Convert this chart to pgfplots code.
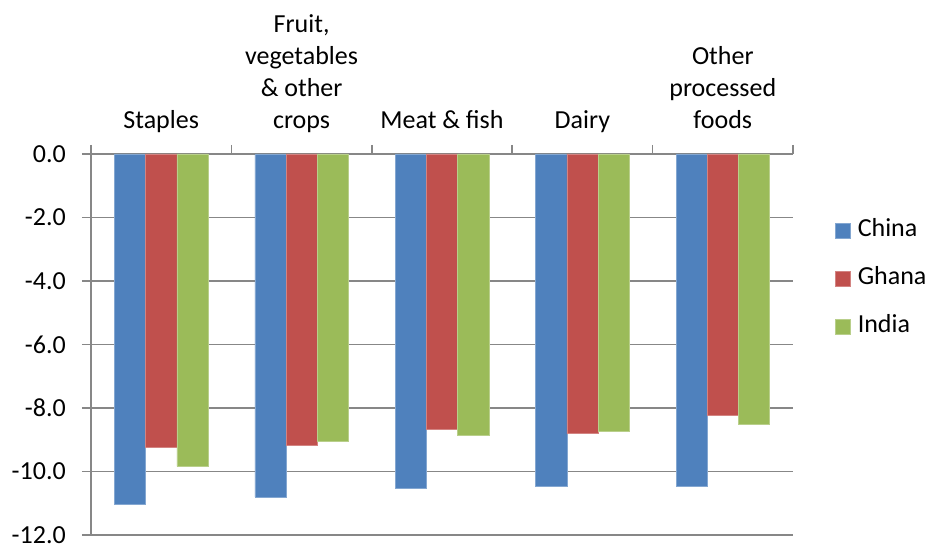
\documentclass[border=0pt]{standalone}
\usepackage{pgfplots}
\pgfplotsset{compat=1.18}
\usepackage{fontspec}
\setmainfont{Carlito}

\definecolor{cChina}{HTML}{4F81BD}
\definecolor{cGhana}{HTML}{C0504D}
\definecolor{cIndia}{HTML}{9BBB59}
\definecolor{gridgray}{HTML}{878787}

\newcommand{\chartfont}{\fontsize{26bp}{32bp}\selectfont}

\begin{document}
\chartfont
\begin{tikzpicture}
\path[use as bounding box] (0,0) rectangle (929bp,544bp);
\begin{axis}[
  at={(91bp,9bp)}, anchor=south west,
  scale only axis,
  width=702bp, height=381bp,
  ybar=0pt, bar width=31.2bp,
  xmin=-0.5, xmax=4.5,
  ymin=-12, ymax=0,
  axis y line*=left,
  axis x line*=top,
  axis line style={gridgray, line width=1.6bp, -},
  xtick={-0.5,0.5,1.5,2.5,3.5,4.5},
  xticklabels={},
  x tick style={gridgray, line width=1.6bp},
  y tick style={gridgray, line width=1.6bp},
  major tick length=9bp,
  tick align=outside,
  extra x ticks={0,1,2,3,4},
  extra x tick labels={Staples,{Fruit,\\vegetables\\\& other\\crops},Meat \& fish,Dairy,{Other\\processed\\foods}},
  extra x tick style={major tick length=0pt, grid=none,
    xticklabel style={anchor=south, align=center, text depth=0pt, inner sep=0pt, yshift=25bp}},
  ytick={-12,-10,-8,-6,-4,-2,0},
  yticklabels={-12.0,-10.0,-8.0,-6.0,-4.0,-2.0,0.0},
  yticklabel style={anchor=east, inner sep=0pt, xshift=-16bp},
  ymajorgrids,
  grid style={gridgray, line width=1.6bp},
  every x tick label/.append style={font=\chartfont},
  every y tick label/.append style={font=\chartfont},
  legend image code/.code={\fill[#1] (0bp,-7.5bp) rectangle (15bp,7.5bp);},
  legend style={draw=none, fill=none, at={(1.0598,0.672)}, anchor=west,
    inner sep=0pt, row sep=27bp, column sep=7bp,
    nodes={inner sep=0pt, anchor=west, text height=16bp, text depth=5bp,
      font=\chartfont}},
  legend cell align=left,
]
\addplot[fill=cChina, draw=cChina!70!white, line width=0.6bp] coordinates
  {(0,-11.02) (1,-10.80) (2,-10.54) (3,-10.48) (4,-10.48)};
\addplot[fill=cGhana, draw=cGhana!70!white, line width=0.6bp] coordinates
  {(0,-9.23) (1,-9.18) (2,-8.66) (3,-8.81) (4,-8.23)};
\addplot[fill=cIndia, draw=cIndia!70!white, line width=0.6bp] coordinates
  {(0,-9.84) (1,-9.06) (2,-8.86) (3,-8.72) (4,-8.50)};
\legend{China,Ghana,India}
\end{axis}
\end{tikzpicture}
\end{document}
